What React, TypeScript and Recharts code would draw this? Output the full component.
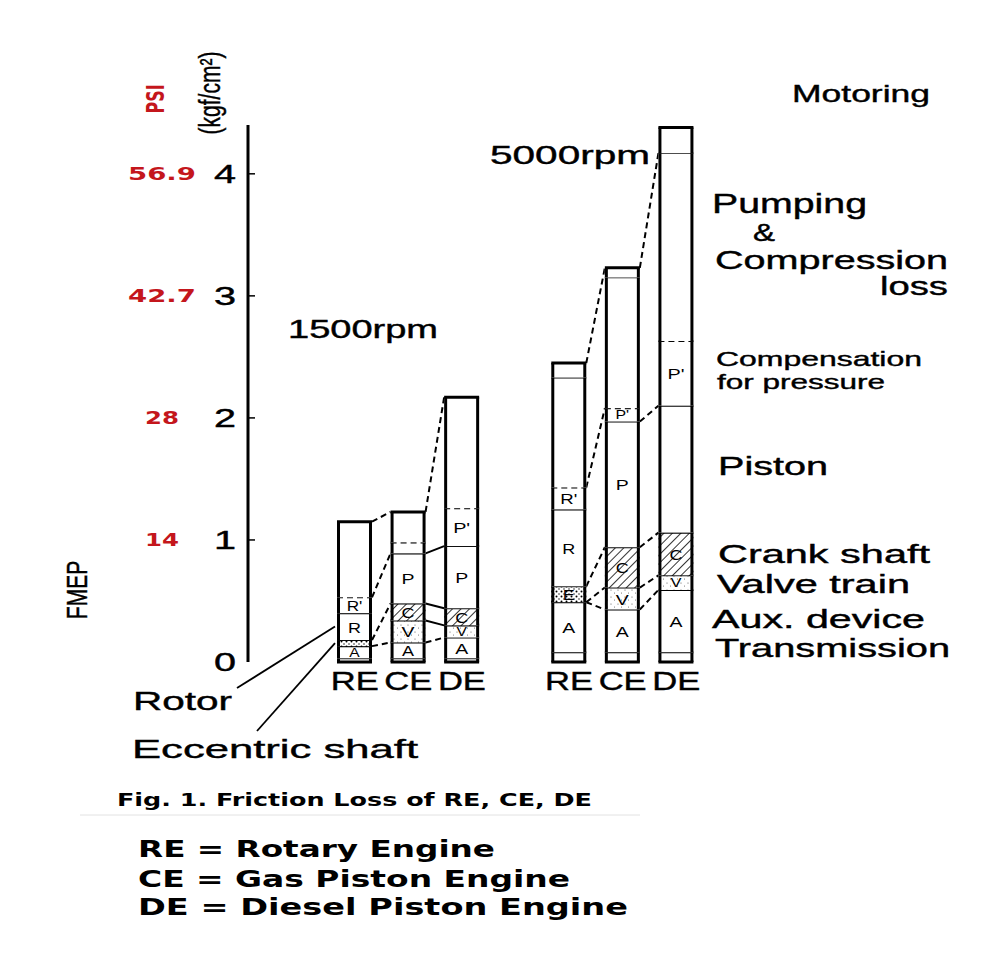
import React from 'react';
import { BarChart, Bar, XAxis, YAxis } from 'recharts';

// ---------- data (kgf/cm²) ----------
const CATEGORIES = ['RE1', 'CE1', 'DE1', 'gap', 'RE2', 'CE2', 'DE2'];
const TICK_LABELS = ['RE', 'CE', 'DE', '', 'RE', 'CE', 'DE'];
const TRANSMISSION = [0.03, 0.03, 0.03, 0, 0.08, 0.08, 0.08];
const AUX = [0.1, 0.13, 0.17, 0, 0.41, 0.35, 0.51];
const VALVE = [0, 0.18, 0.1, 0, 0, 0.18, 0.12];
const CRANK = [0.05, 0.14, 0.14, 0, 0.13, 0.33, 0.35];
const PISTON = [0.22, 0.41, 0.51, 0, 0.63, 1.03, 1.04];
const COMPENSATION = [0.13, 0.09, 0.31, 0, 0.18, 0.11, 0.53];
const PUMPING = [0.62, 0.25, 0.91, 0, 0.9, 1.07, 1.54];
const CAP = [0, 0, 0, 0, 0.12, 0.08, 0.21];

const LBL_A = ['A', 'A', 'A', '', 'A', 'A', 'A'];
const LBL_V = ['', 'V', 'V', '', '', 'V', 'V'];
const LBL_C = ['', 'C', 'C', '', 'E', 'C', 'C'];
const LBL_P = ['R', 'P', 'P', '', 'R', 'P', ''];
const LBL_COMP = ["R'", '', "P'", '', "R'", "P'", "P'"];

const Y_TICKS = [0, 1, 2, 3, 4];
const PSI_LABELS = ['', '14', '28', '42.7', '56.9'];

// connectors: [from bar index, level key on left bar, level key on right bar, dashed]
const LINKS: [number, string, string, boolean][] = [
  [0, 'pump', 'pump', true],
  [1, 'pump', 'pump', true],
  [0, 'Pp', 'P', true],
  [0, 'C', 'C', true],
  [0, 'A', 'A', true],
  [1, 'A', 'A', true],
  [1, 'P', 'P', false],
  [1, 'C', 'C', false],
  [1, 'V', 'V', false],
  [4, 'cap', 'cap', true],
  [5, 'cap', 'pump', true],
  [4, 'Pp', 'Pp', true],
  [5, 'P', 'P', true],
  [4, 'C', 'C', true],
  [4, 'A', 'V', true],
  [4, 'A', 'A', true],
  [5, 'C', 'C', true],
  [5, 'V', 'V', true],
  [5, 'A', 'A', true],
];

const KEYS = ['T', 'A', 'V', 'C', 'P', 'Pp', 'pump', 'cap'];
const LABELS: Record<string, string[]> = { A: LBL_A, V: LBL_V, C: LBL_C, P: LBL_P, Pp: LBL_COMP };

const data = CATEGORIES.map((name, i) => ({
  name,
  T: TRANSMISSION[i],
  A: AUX[i],
  V: VALVE[i],
  C: CRANK[i],
  P: PISTON[i],
  Pp: COMPENSATION[i],
  pump: PUMPING[i],
  cap: CAP[i],
}));

// ---------- layout ----------
const W = 1003;
const H = 954;
const MARGIN = { top: 125, right: 300, bottom: 262, left: 188 };
const Y_W = 60;
const X_PAD_L = 80;
const STEP = (W - MARGIN.left - MARGIN.right - Y_W - X_PAD_L) / CATEGORIES.length;
const SANS = '"Liberation Sans", Arial, Helvetica, sans-serif';
const BOLD = '"DejaVu Sans", Verdana, sans-serif';
const RED = '#c4161c';
const ROTOR_ANCHOR = [237, 688];
const ECC_ANCHOR = [257, 731];

const cum = (row: any, key: string) =>
  KEYS.slice(0, KEYS.indexOf(key) + 1).reduce((s, k) => s + row[k], 0);

const makeShape = (key: string) => (props: any) => {
  const { x, y, width, height, payload } = props;
  if (!payload || !height || height <= 0) return <g />;
  const i = CATEGORIES.indexOf(payload.name);
  const row = data[i];
  const isTop = key === 'cap' || (key === 'pump' && row.cap === 0);
  let fill = '#fff';
  if (key === 'C') fill = LBL_C[i] === 'C' ? 'url(#hatch)' : 'url(#dots)';
  if (key === 'V') fill = 'url(#speck)';
  const lbl = LABELS[key] ? LABELS[key][i] : '';
  const topW = isTop ? 3 : key === 'pump' ? 1.5 : 2;
  const out: React.ReactNode[] = [];
  out.push(<rect key="f" x={x} y={y} width={width} height={height} fill={fill} />);
  out.push(
    <line key="t" x1={x} x2={x + width} y1={y} y2={y} stroke="#000" strokeWidth={topW}
      strokeDasharray={key === 'Pp' ? '6 4' : undefined} />
  );
  out.push(<line key="l" x1={x + 1.5} x2={x + 1.5} y1={y} y2={y + height} stroke="#000" strokeWidth={3} />);
  out.push(<line key="r" x1={x + width - 1.5} x2={x + width - 1.5} y1={y} y2={y + height} stroke="#000" strokeWidth={3} />);
  if (key === 'T') {
    out.push(<line key="b" x1={x} x2={x + width} y1={y + height} y2={y + height} stroke="#000" strokeWidth={3} />);
    const y0 = y + height;
    const ppu = height / row.T;
    LINKS.filter((l) => l[0] === i).forEach((l, k) => {
      const next = data[i + 1];
      out.push(
        <line key={'lk' + k} x1={x + width} y1={y0 - cum(row, l[1]) * ppu} x2={x + STEP}
          y2={y0 - cum(next, l[2]) * ppu} stroke="#000" strokeWidth={2}
          strokeDasharray={l[3] ? '6 4' : undefined} />
      );
    });
  }
  if (i === 0 && key === 'P') {
    out.push(<line key="rot" x1={ROTOR_ANCHOR[0]} y1={ROTOR_ANCHOR[1]} x2={x - 2} y2={y + height / 2} stroke="#000" strokeWidth={1.8} />);
  }
  if (i === 0 && key === 'C') {
    out.push(<line key="ecc" x1={ECC_ANCHOR[0]} y1={ECC_ANCHOR[1]} x2={x - 2} y2={y + height / 2} stroke="#000" strokeWidth={1.8} />);
  }
  if (lbl && height > 8) {
    const fs = Math.max(12, Math.min(15, height - 2));
    out.push(
      <text key="lb" x={x + width / 2} y={y + height / 2 + 0.5} textAnchor="middle" dominantBaseline="central"
        fontFamily={SANS} fontSize={fs} fill="#000"
        textLength={(lbl.length > 1 ? 17 : 13) * fs / 15} lengthAdjust="spacingAndGlyphs">{lbl}</text>
    );
  }
  return <g>{out}</g>;
};

const YTick = (props: any) => {
  const { x, y, payload } = props;
  const v = payload.value;
  const idx = Y_TICKS.indexOf(v);
  return (
    <g>
      <text x={x - 12} y={y} textAnchor="end" dominantBaseline="central" fontFamily={SANS}
        fontSize={25} fill="#000" stroke="#000" strokeWidth={0.4}
        textLength={22} lengthAdjust="spacingAndGlyphs">{String(v)}</text>
      {v > 0 && <line x1={x} x2={x + 7} y1={y} y2={y} stroke="#000" strokeWidth={1.5} />}
      {PSI_LABELS[idx] && (
        <text x={x - 86} y={y} textAnchor="middle" dominantBaseline="central" fontFamily={BOLD}
          fontWeight="bold" fontSize={17} fill={RED}
          textLength={PSI_LABELS[idx].length * 17} lengthAdjust="spacingAndGlyphs">{PSI_LABELS[idx]}</text>
      )}
    </g>
  );
};

const XTick = (props: any) => {
  const { x, y, index } = props;
  const t = TICK_LABELS[index];
  if (!t) return <g />;
  return (
    <text x={x} y={y + 28} textAnchor="middle" fontFamily={SANS} fontSize={25} fill="#000"
      stroke="#000" strokeWidth={0.4} textLength={48} lengthAdjust="spacingAndGlyphs">{t}</text>
  );
};

const Txt = ({ x, y, s, len, children, bold }: any) => (
  <text x={x} y={y} fontSize={s} fontFamily={bold ? BOLD : SANS} fontWeight={bold ? 'bold' : 'normal'}
    fill="#000" stroke={bold ? 'none' : '#000'} strokeWidth={bold ? 0 : 0.4}
    textLength={len} lengthAdjust="spacingAndGlyphs">{children}</text>
);

export default function App() {
  return (
    <div style={{ position: 'absolute', left: 0, top: 0, width: W, height: H, background: '#fff', overflow: 'hidden' }}>
      <svg width={0} height={0} style={{ position: 'absolute' }}>
        <defs>
          <pattern id="hatch" patternUnits="userSpaceOnUse" width={6} height={6} patternTransform="rotate(45)">
            <rect width={6} height={6} fill="#fff" />
            <line x1={0} y1={0} x2={0} y2={6} stroke="#000" strokeWidth={1.6} />
          </pattern>
          <pattern id="dots" patternUnits="userSpaceOnUse" width={5} height={5}>
            <rect width={5} height={5} fill="#fff" />
            <circle cx={1.5} cy={1.5} r={1} fill="#000" />
            <circle cx={4} cy={4} r={0.7} fill="#000" />
          </pattern>
          <pattern id="speck" patternUnits="userSpaceOnUse" width={7} height={7}>
            <rect width={7} height={7} fill="#fff" />
            <circle cx={2} cy={2} r={0.6} fill="#555" />
            <circle cx={5.5} cy={5} r={0.5} fill="#555" />
          </pattern>
        </defs>
      </svg>
      <div style={{ position: 'absolute', left: 0, top: 0 }}>
        <BarChart width={W} height={H} data={data} margin={MARGIN} barSize={35}>
          <XAxis dataKey="name" axisLine={false} tickLine={false} tickSize={0} tickMargin={0}
            padding={{ left: X_PAD_L, right: 0 }} height={30} interval={0} tick={<XTick />} />
          <YAxis width={Y_W} domain={[0, 4.4]} ticks={Y_TICKS} interval={0} tickLine={false} tickSize={0}
            tickMargin={0} axisLine={{ stroke: '#000', strokeWidth: 3 }} tick={<YTick />} />
          {KEYS.map((k) => (
            <Bar key={k} dataKey={k} stackId="s" isAnimationActive={false} shape={makeShape(k)} />
          ))}
        </BarChart>
      </div>
      <svg width={W} height={H} style={{ position: 'absolute', left: 0, top: 0, pointerEvents: 'none' }}>
        <text transform="translate(156,99) scale(1.5,1) rotate(-90)" textAnchor="middle" dominantBaseline="central"
          fontFamily={BOLD} fontWeight="bold" fontSize={16} fill={RED}>PSI</text>
        <text transform="translate(210,93) scale(1.4,1) rotate(-90)" textAnchor="middle" dominantBaseline="central"
          fontFamily={SANS} fontSize={21} fill="#000" stroke="#000" strokeWidth={0.3}>(kgf/cm²)</text>
        <text transform="translate(77,590) scale(1.4,1) rotate(-90)" textAnchor="middle" dominantBaseline="central"
          fontFamily={SANS} fontSize={21} fill="#000" stroke="#000" strokeWidth={0.3}>FMEP</text>

        <Txt x={792} y={102} s={24} len={138}>Motoring</Txt>
        <Txt x={490} y={164} s={26} len={160}>5000rpm</Txt>
        <Txt x={288} y={338} s={25} len={150}>1500rpm</Txt>
        <Txt x={712} y={213} s={27} len={155}>Pumping</Txt>
        <Txt x={753} y={241} s={24} len={22}>&amp;</Txt>
        <Txt x={715} y={269} s={26} len={233}>Compression</Txt>
        <Txt x={880} y={295} s={26} len={68}>loss</Txt>
        <Txt x={716} y={366} s={21} len={206}>Compensation</Txt>
        <Txt x={717} y={389} s={21} len={168}>for pressure</Txt>
        <Txt x={718} y={475} s={25} len={110}>Piston</Txt>
        <Txt x={718} y={563} s={25} len={212}>Crank shaft</Txt>
        <Txt x={717} y={593} s={25} len={193}>Valve train</Txt>
        <Txt x={712} y={628} s={25} len={213}>Aux. device</Txt>
        <Txt x={715} y={657} s={25} len={235}>Transmission</Txt>
        <Txt x={133} y={710} s={26} len={99}>Rotor</Txt>
        <Txt x={132} y={758} s={26} len={286}>Eccentric shaft</Txt>

        <Txt x={117} y={806} s={18} len={475} bold>Fig. 1. Friction Loss of RE, CE, DE</Txt>
        <line x1={80} x2={640} y1={815} y2={815} stroke="#e2e2e2" strokeWidth={1} />
        <Txt x={138} y={857} s={23} len={357} bold>RE = Rotary Engine</Txt>
        <Txt x={138} y={887} s={23} len={432} bold>CE = Gas Piston Engine</Txt>
        <Txt x={138} y={915} s={23} len={490} bold>DE = Diesel Piston Engine</Txt>
      </svg>
    </div>
  );
}
